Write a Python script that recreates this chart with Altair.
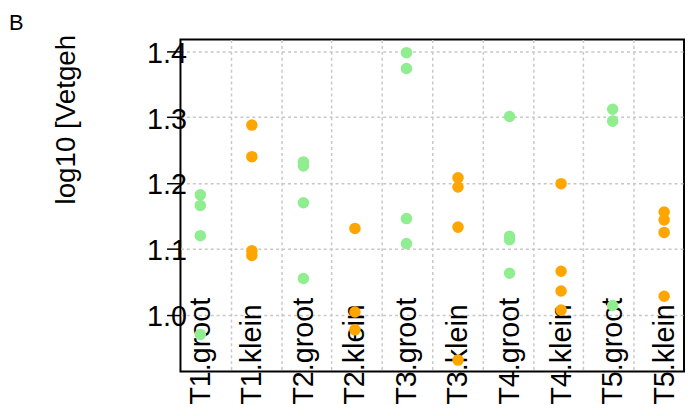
import altair as alt
import pandas as pd

categories = ["T1.groot", "T1.klein", "T2.groot", "T2.klein", "T3.groot",
              "T3.klein", "T4.groot", "T4.klein", "T5.groot", "T5.klein"]

t1_groot = [1.182, 1.166, 1.120, 0.970]
t1_klein = [1.288, 1.240, 1.097, 1.090]
t2_groot = [1.232, 1.226, 1.170, 1.055]
t2_klein = [1.131, 1.004, 0.977]
t3_groot = [1.398, 1.374, 1.146, 1.108]
t3_klein = [1.208, 1.194, 1.133, 0.931]
t4_groot = [1.301, 1.119, 1.114, 1.063]
t4_klein = [1.199, 1.066, 1.036, 1.007]
t5_groot = [1.312, 1.294, 1.014]
t5_klein = [1.156, 1.144, 1.125, 1.028]

series = [t1_groot, t1_klein, t2_groot, t2_klein, t3_groot,
          t3_klein, t4_groot, t4_klein, t5_groot, t5_klein]

y_ticks = [1.0, 1.1, 1.2, 1.3, 1.4]
y_title = "log10 [Vetgeh"
panel_tag = "B"

rows = []
for cat, vals in zip(categories, series):
    for v in vals:
        rows.append({"cat": cat, "val": v, "grp": cat.split(".")[1]})
df = pd.DataFrame(rows)

FONT = "Liberation Sans"
grid_color = "#c8c8c8"
y_scale = alt.Scale(domain=[0.9136, 1.418], nice=False, zero=False)

points = alt.Chart(df).mark_circle(size=135, opacity=1).encode(
    x=alt.X("cat:N", sort=categories,
            scale=alt.Scale(type="point", padding=0.385),
            axis=alt.Axis(title=None, labelAngle=270, labelAlign="left",
                          labelBaseline="middle", labelPadding=33,
                          ticks=False, domain=False, grid=False,
                          labelFontSize=29, labelFont=FONT, labelColor="black",
                          labelOverlap=False, labelBound=False, labelFlush=False)),
    y=alt.Y("val:Q", scale=y_scale,
            axis=alt.Axis(values=y_ticks, format=".1f", tickSize=14,
                          tickWidth=1.5, tickColor="black", labelPadding=0,
                          labelAlign="center", labelBaseline="middle",
                          labelOffset=2,
                          labelFontSize=29, labelFont=FONT, labelColor="black",
                          domain=False, grid=True, gridColor=grid_color,
                          gridDash=[3, 3], gridWidth=1.5,
                          title=y_title, titleFontSize=28, titleFont=FONT,
                          titleFontWeight="normal", titleColor="black",
                          titleAngle=270, titleAlign="left",
                          titleBaseline="alphabetic", titleX=-107, titleY=166)),
    color=alt.Color("grp:N", scale=alt.Scale(domain=["groot", "klein"],
                                             range=["#90EE90", "#FFA500"]),
                    legend=None),
)

grid_df = pd.DataFrame({"g": [0, 10]})
vgrid = alt.Chart(grid_df).mark_point(opacity=0).encode(
    x=alt.X("g:Q", scale=alt.Scale(domain=[0, 10], nice=False, zero=False),
            axis=alt.Axis(orient="top", values=list(range(1, 10)), labels=False,
                          ticks=False, domain=False, grid=True,
                          gridColor=grid_color, gridDash=[3, 3], gridWidth=1.5,
                          title=None)),
)

tag = alt.Chart(pd.DataFrame({"t": [panel_tag]})).mark_text(
    align="left", baseline="alphabetic", fontSize=22, font=FONT, color="black"
).encode(text="t:N", x=alt.value(-173), y=alt.value(-10),
         size=alt.value(22))

chart = alt.layer(vgrid, points, tag).resolve_scale(x="independent").properties(
    width=508, height=335,
    autosize=alt.AutoSizeParams(type="none"),
    padding={"left": 174, "top": 30, "right": 1, "bottom": 36},
).configure_view(stroke="black", strokeWidth=2)

chart.save("out.html", embed_options={"renderer": "svg", "actions": False})
